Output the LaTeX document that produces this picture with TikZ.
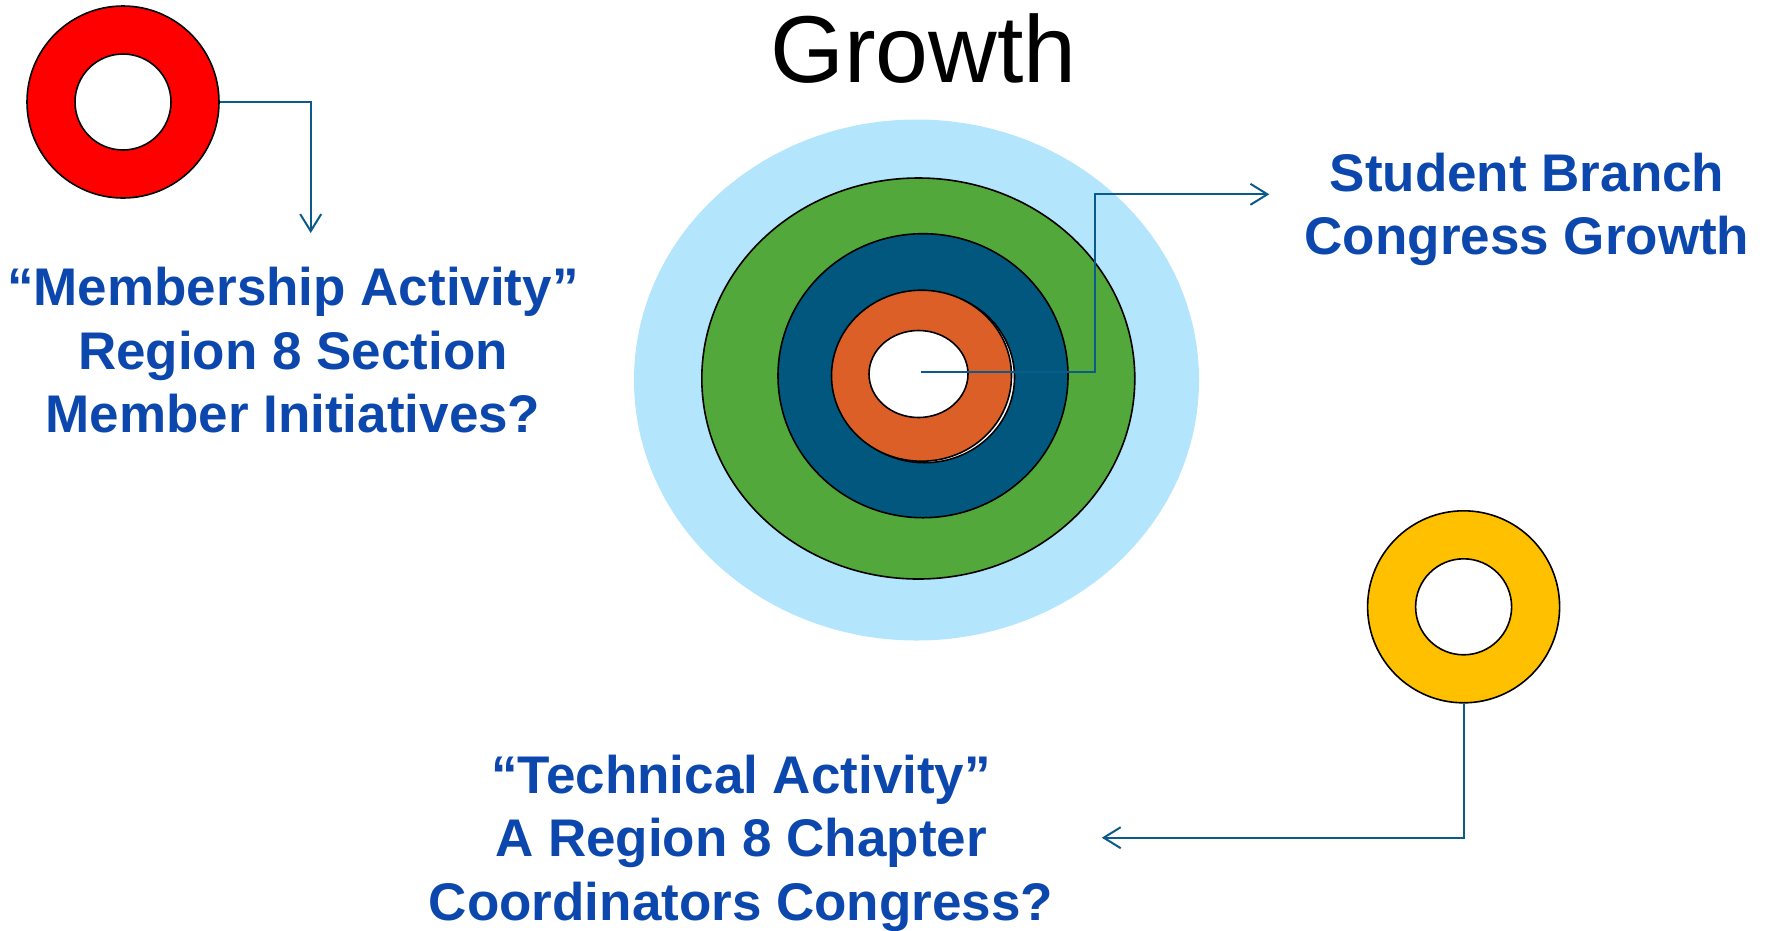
\documentclass[tikz,border=0pt]{standalone}
\usepackage{fontspec}
\setmainfont{Liberation Sans}
\usetikzlibrary{shapes.geometric,arrows.meta}
\definecolor{ringred}{HTML}{FF0000}
\definecolor{ringyellow}{HTML}{FFC000}
\definecolor{skyblue}{HTML}{B3E5FC}
\definecolor{ringgreen}{HTML}{53A83B}
\definecolor{ringblue}{HTML}{02577F}
\definecolor{ringorange}{HTML}{DD5F28}
\definecolor{linkblue}{HTML}{0A5A8A}
\definecolor{textblue}{HTML}{0C47AE}
\begin{document}
\begin{tikzpicture}[x=1pt,y=-1pt,
  ring/.style={ellipse, draw=black, line width=1.6pt, inner sep=0pt},
  link/.style={draw=linkblue, line width=2pt, -{Straight Barb[length=17pt,width=21pt]}},
  bluetext/.style={text=textblue, font=\bfseries\fontsize{53}{63.5}\selectfont, align=center, inner sep=0pt}]
\useasboundingbox (0,0) rectangle (1768,930);
% red ring
\node[ring, fill=ringred, minimum width=192pt, minimum height=192pt] (red) at (123,102) {};
\node[ring, fill=white, minimum width=96pt, minimum height=96pt] (redhole) at (123,102) {};
% yellow ring
\node[ring, fill=ringyellow, minimum width=192pt, minimum height=192pt] (yellow) at (1463.6,606.8) {};
\node[ring, fill=white, minimum width=96pt, minimum height=96pt] (yellowhole) at (1463.6,606.8) {};
% target
\node[ellipse, fill=skyblue, inner sep=0pt, minimum width=565pt, minimum height=521pt] (sky) at (916.5,380) {};
\node[ring, fill=ringgreen, minimum width=433pt, minimum height=401pt] (green) at (918.3,378.5) {};
\node[ring, fill=ringblue, minimum width=290pt, minimum height=284pt] (blue) at (923,375.7) {};
\node[ring, fill=white, minimum width=180pt, minimum height=171pt] (orangeshadow) at (924.5,377.2) {};
\node[ring, fill=ringorange, minimum width=180pt, minimum height=171pt] (orange) at (921.5,375.7) {};
\node[ring, fill=white, minimum width=99pt, minimum height=87pt] (bull) at (918.5,374) {};
% texts (anchor base = baseline of the last line)
\node[font=\fontsize{95}{114}\selectfont, anchor=base, inner sep=0pt] (title) at (923.5,82) {Growth};
\node[bluetext, anchor=base] (mem) at (293,432.7) {“Membership Activity”\\Region 8 Section\\Member Initiatives?};
\node[bluetext, anchor=base] (sbc) at (1527,254.5) {Student Branch\\Congress Growth};
\node[bluetext, anchor=base] (tech) at (741,920.3) {“Technical Activity”\\A Region 8 Chapter\\Coordinators Congress?};
% connectors
\coordinate (redend) at (310.7,233);
\draw[link] (red.east) -| (redend);
\coordinate (cstart) at (920.5,372.4);
\coordinate (cbend) at (1095.3,194.3);
\coordinate (cend) at (1269.3,194.3);
\draw[link] (cstart) -| (cbend) -- (cend);
\coordinate (yend) at (1101.8,837.7);
\draw[link] (yellow.south) |- (yend);
\end{tikzpicture}
\end{document}
